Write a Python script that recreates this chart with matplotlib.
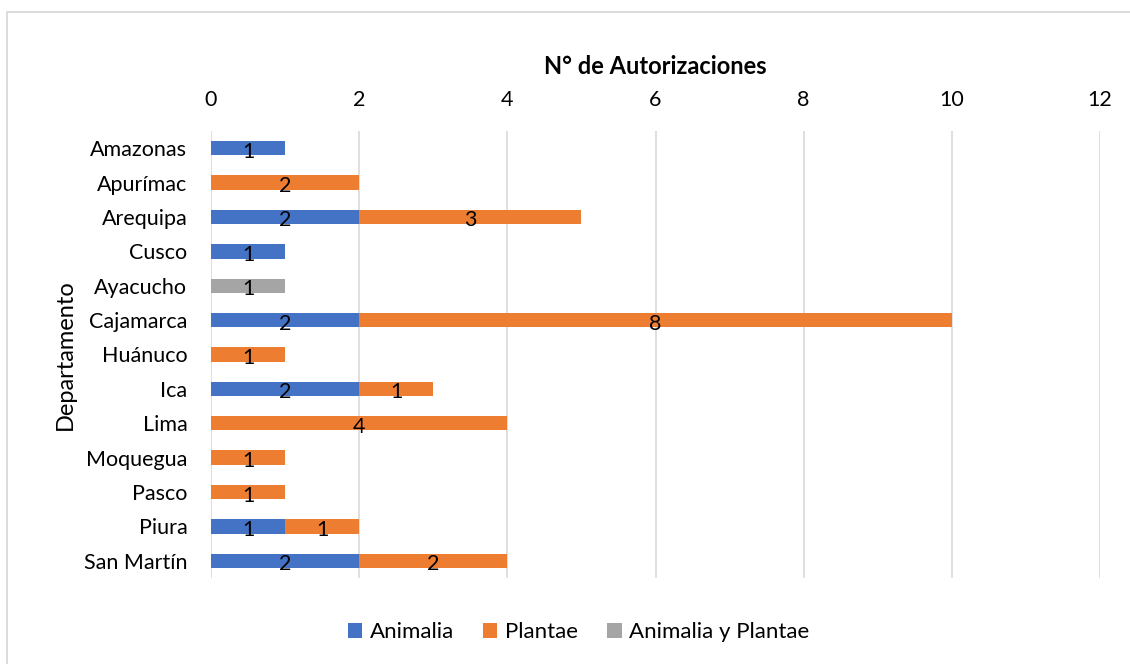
import matplotlib
matplotlib.use("Agg")
import matplotlib.pyplot as plt
from matplotlib.patches import Rectangle
import numpy as np

plt.rcParams['font.family'] = ['Lato', 'DejaVu Sans']

departamentos = ["Amazonas", "Apurímac", "Arequipa", "Cusco", "Ayacucho", "Cajamarca",
                 "Huánuco", "Ica", "Lima", "Moquegua", "Pasco", "Piura", "San Martín"]
animalia = [1, 0, 2, 1, 0, 2, 0, 2, 0, 0, 0, 1, 2]
plantae = [0, 2, 3, 0, 0, 8, 1, 1, 4, 1, 1, 1, 2]
animalia_plantae = [0, 0, 0, 0, 1, 0, 0, 0, 0, 0, 0, 0, 0]
series_names = ["Animalia", "Plantae", "Animalia y Plantae"]
colors = ["#4472C4", "#ED7D31", "#A5A5A5"]
x_ticks = [0, 2, 4, 6, 8, 10, 12]

FS = 15.5

fig = plt.figure(figsize=(11.3, 6.64), dpi=100)
fig.patches.append(Rectangle((7/1130, -0.1), 1.2, 1 - 12/664 + 0.1, transform=fig.transFigure,
                             fill=False, edgecolor="#D9D9D9", linewidth=1.3, zorder=0))
ax = fig.add_axes([211/1130, 1 - 578/664, (1100 - 211)/1130, (578 - 131)/664])

y = np.arange(len(departamentos))
left = np.zeros(len(departamentos))
for vals, name, col in zip([animalia, plantae, animalia_plantae], series_names, colors):
    vals = np.array(vals, dtype=float)
    ax.barh(y, vals, left=left, height=0.42, color=col, label=name, zorder=3)
    for yi, (l, v) in enumerate(zip(left, vals)):
        if v > 0:
            ax.annotate(str(int(v)), xy=(l + v / 2, yi), xytext=(0, -2.5),
                        textcoords="offset points", ha="center", va="center",
                        fontsize=FS, color="black", zorder=4)
    left += vals

ax.set_ylim(len(departamentos) - 0.5, -0.5)
ax.set_xlim(0, 12)
ax.set_yticks(y)
ax.set_yticklabels(departamentos, fontsize=FS)
ax.set_xticks(x_ticks)
ax.set_xticklabels([str(t) for t in x_ticks], fontsize=FS)
ax.xaxis.tick_top()
ax.xaxis.set_label_position("top")
ax.tick_params(axis="both", length=0, colors="black")
ax.tick_params(axis="x", pad=15)
ax.tick_params(axis="y", pad=17)
ax.grid(axis="x", color="#D9D9D9", linewidth=1.2, zorder=0)
for s in ax.spines.values():
    s.set_visible(False)

ax.set_xlabel("N° de Autorizaciones", fontsize=17, fontweight="bold", labelpad=12)
ax.set_ylabel("Departamento", fontsize=17, labelpad=6)

fig.legend(loc="center", bbox_to_anchor=(0.512, 1 - 632/664), ncol=3, frameon=False,
           fontsize=16, handlelength=0.65, handleheight=0.65, handletextpad=0.35,
           columnspacing=1.3)

fig.savefig("out.png", dpi=100)
